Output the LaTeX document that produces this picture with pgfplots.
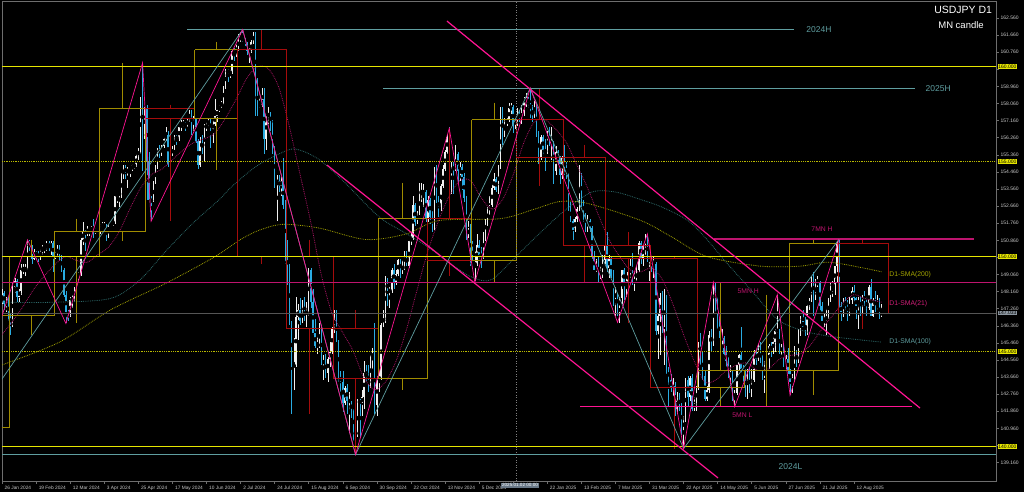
\documentclass[border=0pt]{standalone}
\usepackage{pgfplots}
\pgfplotsset{compat=1.18}
\usepackage{pgfplotstable}
\usepackage{fontspec}
\setmainfont{Liberation Sans}
\definecolor{upc}{RGB}{240,240,240}
\definecolor{dnc}{RGB}{41,171,226}
\definecolor{mnup}{RGB}{160,140,0}
\definecolor{mndn}{RGB}{165,12,12}
\definecolor{ylw}{RGB}{230,230,0}
\definecolor{ylwdot}{RGB}{185,185,0}
\definecolor{mag}{RGB}{190,20,110}
\definecolor{dpink}{RGB}{255,20,147}
\definecolor{tealc}{RGB}{95,158,160}
\definecolor{sma200}{RGB}{165,165,0}
\definecolor{sma100}{RGB}{45,105,105}
\definecolor{sma21}{RGB}{170,20,100}
\definecolor{axc}{RGB}{110,110,110}
\definecolor{lbl}{RGB}{200,200,200}
\definecolor{curc}{RGB}{85,85,85}

\pgfplotstableread{
o h l c
147.6 148.3 147.5 148.1
148.1 148.2 147.2 147.5
147.5 147.9 147.1 147.6
147.6 147.9 146.6 146.9
146.9 147.0 145.9 146.4
146.4 148.6 146.3 148.4
148.4 148.9 148.1 148.7
148.7 148.8 147.6 147.9
147.9 148.3 147.6 148.2
148.2 149.6 148.0 149.3
149.3 149.6 149.1 149.3
149.3 149.6 149.0 149.4
149.4 150.9 149.3 150.8
150.8 150.9 150.3 150.6
150.6 150.6 149.6 149.9
149.9 150.4 149.8 150.2
150.2 150.3 149.9 150.1
150.1 150.3 149.7 150.0
150.0 150.4 149.8 150.3
150.3 150.6 150.1 150.5
150.5 150.6 150.2 150.5
150.5 150.8 150.3 150.7
150.7 150.8 150.3 150.5
150.5 150.8 150.1 150.7
150.7 150.8 149.2 150.0
150.0 150.3 149.9 150.1
150.1 150.6 150.0 150.5
150.5 150.6 149.8 150.0
150.0 150.1 149.2 149.3
149.3 149.4 147.9 148.0
148.0 148.2 146.5 147.1
147.1 147.2 146.6 146.9
146.9 147.9 146.8 147.7
147.7 148.0 147.3 147.8
147.8 148.4 147.6 148.3
148.3 149.2 148.2 149.0
149.0 149.2 148.7 149.1
149.1 151.0 149.0 150.9
150.9 151.8 150.6 151.3
151.3 151.4 150.3 151.2
151.2 151.6 151.1 151.4
151.4 151.5 151.1 151.4
151.4 151.6 151.3 151.5
151.5 152.0 151.0 151.3
151.3 151.5 151.2 151.4
151.4 151.4 151.2 151.3
151.3 151.7 151.2 151.6
151.6 151.8 151.5 151.6
151.6 151.8 151.5 151.6
151.6 151.7 150.8 151.3
151.3 151.7 151.0 151.6
151.6 151.9 151.6 151.8
151.8 151.9 151.6 151.8
151.8 153.2 151.7 153.2
153.2 153.3 152.8 153.3
153.3 153.4 152.6 153.3
153.3 154.4 153.1 154.2
154.2 154.8 154.1 154.7
154.7 154.8 154.1 154.4
154.4 154.7 153.6 154.6
154.6 154.7 154.2 154.6
154.6 154.9 154.5 154.8
154.8 154.9 154.6 154.8
154.8 155.4 154.7 155.3
155.3 155.7 155.1 155.6
155.6 158.4 155.4 158.3
158.3 160.2 154.5 156.4
156.4 157.9 156.2 157.8
157.8 158.0 153.0 155.0
155.0 155.5 152.9 153.0
153.0 153.2 151.9 152.9
152.9 154.0 152.9 153.9
153.9 154.8 153.8 154.7
154.7 155.7 154.6 155.6
155.6 155.9 155.2 155.5
155.5 155.9 155.3 155.8
155.8 156.3 155.7 156.2
156.2 156.8 156.1 156.4
156.4 156.6 154.7 154.9
154.9 155.6 153.6 155.4
155.4 155.8 155.3 155.7
155.7 156.4 155.6 156.3
156.3 156.4 155.9 156.2
156.2 156.9 156.1 156.8
156.8 157.2 156.6 157.0
157.0 157.2 156.8 157.0
157.0 157.1 156.6 156.9
156.9 157.3 156.8 157.2
157.2 157.7 157.1 157.6
157.6 157.7 156.4 156.8
156.8 157.4 156.6 157.3
157.3 157.3 156.0 156.1
156.1 156.2 154.6 154.8
154.8 156.3 154.7 156.1
156.1 156.4 155.4 155.6
155.6 157.0 155.0 156.7
156.7 157.1 156.6 157.0
157.0 157.3 156.8 157.1
157.1 157.3 155.7 156.7
156.7 157.2 156.0 157.0
157.0 158.3 156.9 157.4
157.4 157.8 157.1 157.7
157.7 158.0 157.6 157.9
157.9 158.2 157.8 158.1
158.1 159.0 158.0 158.9
158.9 159.9 158.8 159.8
159.8 159.9 159.2 159.7
159.7 159.8 159.4 159.7
159.7 160.9 159.6 160.8
160.8 161.0 160.3 160.7
160.7 161.3 160.5 160.9
160.9 161.7 160.8 161.5
161.5 161.8 161.3 161.5
161.5 162.0 161.3 161.4
161.4 161.5 161.1 161.2
161.2 161.3 160.6 160.8
160.8 161.0 160.2 160.8
160.8 161.4 160.7 161.3
161.3 161.8 161.2 161.7
161.7 161.8 157.4 158.8
158.8 159.4 157.4 157.9
157.9 158.4 157.8 158.0
158.0 158.9 157.9 158.3
158.3 158.9 155.4 156.2
156.2 157.5 155.6 157.4
157.4 157.9 157.0 157.5
157.5 157.6 156.6 157.0
157.0 157.2 155.4 155.6
155.6 155.8 153.6 153.9
153.9 154.3 151.9 154.0
154.0 154.3 153.4 153.7
153.7 154.2 153.2 154.0
154.0 155.2 152.5 152.7
152.7 153.0 149.6 150.0
150.0 150.9 148.5 149.4
149.4 149.6 146.4 146.5
146.5 146.6 141.7 144.2
144.2 145.7 143.0 144.3
144.3 147.9 144.2 146.8
146.8 147.5 145.6 147.2
147.2 147.8 146.4 146.6
146.6 147.7 146.5 147.2
147.2 147.9 146.6 146.8
146.8 147.6 146.3 147.3
147.3 149.4 146.9 149.3
149.3 149.4 147.3 147.6
147.6 148.3 145.9 146.0
146.0 146.7 145.2 145.3
145.3 145.9 144.9 145.3
145.3 146.5 145.2 146.3
146.3 146.4 144.3 144.4
144.4 144.8 143.5 144.5
144.5 144.9 143.6 143.9
143.9 144.8 143.4 144.6
144.6 145.5 144.2 145.0
145.0 146.3 144.9 146.2
146.2 147.2 146.0 146.9
146.9 147.2 145.5 145.5
145.5 145.6 143.4 143.7
143.7 144.0 142.9 143.4
143.4 144.0 141.8 142.3
142.3 143.2 142.2 143.1
143.1 143.3 141.7 142.4
142.4 142.9 140.7 142.4
142.4 142.4 141.5 141.8
141.8 142.0 140.3 140.8
140.8 141.0 139.6 140.6
140.6 142.5 140.5 142.4
142.4 142.5 140.5 142.3
142.3 143.0 141.6 142.6
142.6 144.5 142.0 143.9
143.9 144.3 143.4 143.6
143.6 144.3 142.9 143.2
143.2 144.8 143.1 144.8
144.8 145.2 144.1 144.8
144.8 146.5 141.7 142.2
142.2 143.7 141.6 143.6
143.6 144.0 142.9 143.6
143.6 146.5 143.5 146.4
146.4 147.2 146.3 146.9
146.9 149.0 146.5 148.7
148.7 148.9 147.4 148.2
148.2 148.4 147.3 148.2
148.2 149.4 148.1 149.3
149.3 149.6 148.3 148.6
148.6 149.3 148.5 149.1
149.1 149.9 149.0 149.8
149.8 149.9 148.9 149.2
149.2 149.8 149.1 149.6
149.6 150.3 149.3 150.1
150.1 150.3 149.5 149.5
149.5 150.9 149.4 150.8
150.8 151.3 150.6 151.0
151.0 153.2 150.9 152.7
152.7 152.8 151.6 151.8
151.8 152.4 151.7 152.3
152.3 153.9 152.2 153.3
153.3 153.9 152.9 153.4
153.4 153.8 152.6 153.4
153.4 153.5 151.8 152.0
152.0 153.2 151.8 153.0
153.0 153.1 151.7 152.1
152.1 152.4 151.3 151.6
151.6 154.7 151.4 154.6
154.6 154.8 152.8 152.9
152.9 153.2 152.1 152.6
152.6 153.8 152.4 153.7
153.7 154.8 153.6 154.6
154.6 155.6 154.5 155.5
155.5 156.4 155.4 156.3
156.3 156.8 153.9 154.3
154.3 155.0 153.3 154.7
154.7 155.0 153.3 154.6
154.6 155.9 154.5 155.4
155.4 155.5 153.9 154.5
154.5 155.0 154.0 154.7
154.7 154.9 153.5 154.2
154.2 154.4 152.9 153.1
153.1 153.2 150.9 151.1
151.1 151.9 151.0 151.5
151.5 151.7 149.5 149.7
149.7 150.8 149.6 149.6
149.6 150.3 148.7 149.6
149.6 151.2 149.5 150.6
150.6 150.9 149.9 150.1
150.1 150.5 149.4 150.0
150.0 151.3 149.9 151.2
151.2 152.0 150.8 151.9
151.9 152.6 151.6 152.4
152.4 153.2 152.2 152.7
152.7 153.9 152.6 153.6
153.6 154.4 153.5 154.1
154.1 154.2 153.4 153.5
153.5 154.8 153.3 154.7
154.7 157.9 154.6 157.4
157.4 157.9 155.9 156.4
156.4 157.3 156.3 157.1
157.1 157.3 156.9 157.2
157.2 158.1 157.1 157.8
157.8 158.1 157.5 157.9
157.9 158.0 156.5 156.9
156.9 157.4 156.7 157.2
157.2 157.8 156.9 157.5
157.5 157.7 157.1 157.3
157.3 158.0 157.0 157.6
157.6 158.4 157.4 158.1
158.1 158.6 157.9 158.3
158.3 158.4 157.8 158.1
158.1 158.9 157.3 157.7
157.7 158.0 157.1 157.5
157.5 158.2 157.3 158.0
158.0 158.1 156.3 156.5
156.5 156.6 154.9 155.2
155.2 156.4 155.1 156.3
156.3 156.4 155.3 155.6
155.6 156.2 154.5 155.5
155.5 156.6 155.4 156.5
156.5 156.8 155.8 156.0
156.0 156.8 155.1 156.0
156.0 156.1 153.8 154.5
154.5 155.8 154.3 155.5
155.5 155.6 154.8 155.2
155.2 155.3 153.8 154.3
154.3 155.3 154.1 155.2
155.2 155.9 154.3 154.5
154.5 155.0 154.1 154.3
154.3 154.4 152.4 152.6
152.6 152.9 151.8 151.9
151.9 152.0 150.9 151.4
151.4 152.1 151.3 152.0
152.0 152.6 151.8 152.5
152.5 154.8 152.4 154.4
154.4 154.4 152.6 152.8
152.8 153.0 151.8 152.3
152.3 152.3 151.3 151.5
151.5 152.2 151.3 151.9
151.9 152.0 151.3 151.5
151.5 151.6 149.9 150.0
150.0 150.3 149.3 149.3
149.3 149.9 149.2 149.7
149.7 150.0 148.6 149.0
149.0 149.5 148.8 149.2
149.2 150.1 148.9 149.8
149.8 150.9 149.6 150.6
150.6 151.3 149.2 149.4
149.4 150.1 148.9 149.9
149.9 150.0 148.9 149.0
149.0 149.3 147.4 147.9
147.9 148.4 146.9 148.0
148.0 148.1 146.9 147.3
147.3 147.9 146.5 147.8
147.8 149.3 147.5 149.3
149.3 149.4 147.7 148.6
148.6 148.9 147.9 148.6
148.6 149.4 148.5 149.2
149.2 149.9 148.9 149.3
149.3 150.2 148.5 148.7
148.7 149.2 148.2 148.7
148.7 149.5 148.6 149.3
149.3 150.8 149.2 150.7
150.7 150.8 149.6 149.9
149.9 150.7 149.5 150.6
150.6 151.2 150.1 151.0
151.0 151.1 149.7 149.8
149.8 150.0 148.7 149.9
149.9 150.0 149.2 149.6
149.6 150.0 148.9 149.6
149.6 149.7 145.9 146.1
146.1 147.0 144.6 146.9
146.9 148.1 144.8 147.8
147.8 148.2 146.0 146.3
146.3 148.3 144.3 147.8
147.8 148.0 143.8 144.1
144.1 144.2 142.1 143.5
143.5 143.8 142.9 143.1
143.1 143.6 142.6 143.2
143.2 143.4 141.6 142.0
142.0 142.9 141.7 142.5
142.5 142.8 141.9 142.2
142.2 142.3 140.6 140.9
140.9 141.6 139.9 141.4
141.4 143.6 141.3 143.5
143.5 143.7 142.1 142.6
142.6 143.7 142.4 143.6
143.6 143.8 141.9 142.0
142.0 142.6 141.9 142.3
142.3 143.2 141.9 143.1
143.1 145.5 143.0 145.4
145.4 146.0 144.3 144.9
144.9 145.0 143.5 143.7
143.7 144.0 142.4 142.5
142.5 143.2 142.4 143.0
143.0 146.1 142.8 145.9
145.9 146.2 145.0 145.4
145.4 148.6 145.3 148.4
148.4 148.6 147.1 147.5
147.5 147.9 146.2 146.7
146.7 146.9 145.5 145.7
145.7 146.2 145.2 145.7
145.7 145.8 144.6 144.9
144.9 145.3 144.2 144.5
144.5 144.7 143.6 143.7
143.7 144.3 143.2 143.9
143.9 144.0 142.4 142.6
142.6 143.0 142.1 142.8
142.8 144.3 142.7 144.3
144.3 144.9 144.0 144.8
144.8 146.3 143.9 144.1
144.1 144.3 143.4 144.0
144.0 144.1 142.6 142.7
142.7 144.1 142.5 144.0
144.0 144.2 142.8 142.8
142.8 144.1 142.6 143.5
143.5 145.1 143.4 144.9
144.9 145.1 144.3 144.6
144.6 145.4 144.5 145.0
145.0 145.5 144.4 144.6
144.6 144.8 143.5 143.6
143.6 144.5 142.8 144.1
144.1 144.9 143.8 144.8
144.8 145.4 144.1 145.3
145.3 145.5 144.7 145.1
145.1 145.8 144.9 145.5
145.5 146.2 145.0 146.1
146.1 148.0 146.0 146.1
146.1 146.2 144.9 145.0
145.0 145.4 144.8 145.2
145.2 145.4 144.2 144.4
144.4 144.8 144.1 144.6
144.6 145.2 143.8 144.0
144.0 144.1 142.7 143.4
143.4 143.8 142.8 143.6
143.6 145.3 143.4 144.9
144.9 145.1 144.2 144.5
144.5 146.2 144.4 146.1
146.1 146.9 145.8 146.6
146.6 147.2 146.2 146.3
146.3 146.8 145.8 146.2
146.2 147.5 145.9 147.4
147.4 147.8 147.2 147.7
147.7 149.0 147.6 148.8
148.8 149.2 146.9 147.9
147.9 148.8 147.7 148.6
148.6 149.0 148.4 148.6
148.6 148.7 147.0 147.4
147.4 147.6 146.6 146.6
146.6 147.0 146.3 146.6
146.6 147.3 145.9 146.9
146.9 147.8 146.7 147.7
147.7 148.6 147.6 148.5
148.5 148.7 147.9 148.5
148.5 149.5 148.0 149.5
149.5 150.8 148.6 150.7
150.7 150.9 147.3 147.4
147.4 147.6 146.6 147.1
147.1 147.8 146.8 147.6
147.6 147.9 147.2 147.4
147.4 147.7 146.6 147.1
147.1 147.9 146.9 147.7
147.7 148.4 147.5 148.2
148.2 148.5 147.6 147.8
147.8 147.9 146.7 147.4
147.4 147.9 146.2 147.8
147.8 147.9 146.9 147.2
147.2 148.0 147.0 147.9
147.9 148.2 147.4 147.7
147.7 147.9 146.9 147.3
147.3 148.5 147.2 148.4
148.4 148.8 146.9 146.9
146.9 147.8 146.8 147.7
147.7 148.2 147.1 147.4
147.4 148.0 147.2 147.4
147.4 147.8 146.7 147.0
147.0 147.5 146.8 147.03
}\candles

% monthly candle box: xl xr xm top bottom high low colour
\newcommand{\mnbox}[8]{%
  \addplot[#8, line width=0.8pt, forget plot] coordinates {(#1,#4) (#2,#4) (#2,#5) (#1,#5) (#1,#4)};
  \addplot[#8, line width=0.8pt, forget plot] coordinates {(#3,#6) (#3,#4)};
  \addplot[#8, line width=0.8pt, forget plot] coordinates {(#3,#5) (#3,#7)};
}

\begin{document}
\begin{tikzpicture}
\useasboundingbox (0,0) rectangle (1024pt,492pt);
\fill[black] (0,0) rectangle (1024pt,492pt);
\begin{axis}[
  at={(2pt,11pt)}, anchor=south west,
  scale only axis, width=994pt, height=480pt,
  xmin=0, xmax=466.7, ymin=138.19, ymax=163.455,
  axis line style={draw=axc, line width=0.6pt},
  clip mode=individual,
  xtick={0,16,32,48,64,80,96,112,128,144,160,176,192,208,224,240,256,272,288,304,320,336,352,368,384,400},
  xticklabels={26 Jan 2024,19 Feb 2024,12 Mar 2024,3 Apr 2024,25 Apr 2024,17 May 2024,10 Jun 2024,2 Jul 2024,24 Jul 2024,15 Aug 2024,6 Sep 2024,30 Sep 2024,22 Oct 2024,13 Nov 2024,5 Dec 2024,,22 Jan 2025,13 Feb 2025,7 Mar 2025,31 Mar 2025,22 Apr 2025,14 May 2025,5 Jun 2025,27 Jun 2025,21 Jul 2025,12 Aug 2025},
  xtick pos=bottom, ytick pos=right,
  tick align=outside, major tick length=2.5pt,
  tick style={draw=axc, line width=0.5pt},
  xticklabel style={anchor=north west, text=lbl, font=\fontsize{4.8}{5}\selectfont, xshift=-0.8pt, yshift=1pt},
  ytick={139.16,140.06,140.96,141.86,142.76,143.66,144.56,145.46,146.36,147.26,148.16,149.06,149.96,150.86,151.76,152.66,153.56,154.46,155.36,156.26,157.16,158.06,158.96,159.86,160.76,161.66,162.56},
  yticklabels={139.160,,140.960,141.860,142.760,143.660,144.560,145.460,146.360,147.260,148.160,149.060,,150.860,151.760,152.660,153.560,154.460,155.360,156.260,157.160,158.060,158.960,,160.760,161.660,162.560},
  yticklabel pos=right,
  yticklabel style={anchor=west, text=lbl, font=\fontsize{5}{5}\selectfont, xshift=-1.5pt},
]
% ---------- daily candles ----------
\addplot[only marks, mark=none, forget plot,
  error bars/.cd, y dir=both, y explicit, error mark=none,
  error bar style={draw=upc, line width=0.5pt}]
  table[x expr=\coordindex,
        y expr={(\thisrow{c}>=\thisrow{o}) ? 0.5*(\thisrow{h}+\thisrow{l}) : nan},
        y error expr={0.5*(\thisrow{h}-\thisrow{l})}] {\candles};
\addplot[only marks, mark=none, forget plot,
  error bars/.cd, y dir=both, y explicit, error mark=none,
  error bar style={draw=upc, line width=1.4pt}]
  table[x expr=\coordindex,
        y expr={(\thisrow{c}>=\thisrow{o}) ? 0.5*(\thisrow{o}+\thisrow{c}) : nan},
        y error expr={0.5*abs(\thisrow{c}-\thisrow{o})}] {\candles};
\addplot[only marks, mark=none, forget plot,
  error bars/.cd, y dir=both, y explicit, error mark=none,
  error bar style={draw=dnc, line width=0.5pt}]
  table[x expr=\coordindex,
        y expr={(\thisrow{c}<\thisrow{o}) ? 0.5*(\thisrow{h}+\thisrow{l}) : nan},
        y error expr={0.5*(\thisrow{h}-\thisrow{l})}] {\candles};
\addplot[only marks, mark=none, forget plot,
  error bars/.cd, y dir=both, y explicit, error mark=none,
  error bar style={draw=dnc, line width=1.4pt}]
  table[x expr=\coordindex,
        y expr={(\thisrow{c}<\thisrow{o}) ? 0.5*(\thisrow{o}+\thisrow{c}) : nan},
        y error expr={0.5*abs(\thisrow{c}-\thisrow{o})}] {\candles};

% ---------- moving averages ----------
\addplot[sma200, densely dotted, line width=0.8pt, smooth] coordinates {(0,144.3) (27,145.5) (51,147.2) (77,148.6) (100,150.0) (112,150.9) (121,151.4) (132,151.7) (149,151.5) (171,150.9) (190,151.2) (205,151.9) (234,152.0) (250,152.5) (262,152.9) (275,152.8) (300,151.9) (315,151.0) (331,150.0) (356,149.5) (375,149.5) (389,149.7) (413,149.2)};
\addplot[sma100, densely dotted, line width=0.8pt, smooth] coordinates {(0,147.6) (25,147.6) (51,147.8) (65,148.8) (77,150.3) (90,151.8) (102,153.0) (108,153.7) (120,154.8) (134,155.6) (140,155.6) (149,155.1) (160,154.0) (177,152.1) (190,151.2) (200,150.5) (211,149.6) (221,148.9) (230,148.8) (243,150.2) (255,151.5) (265,152.5) (277,153.4) (288,153.4) (300,153.0) (310,152.6) (322,151.9) (331,150.9) (340,149.7) (352,148.2) (364,146.7) (376,146.1) (389,145.8) (413,145.5)};
\addplot[sma21, densely dotted, line width=0.8pt, smooth] coordinates {(0,145.9) (5,146.6) (10,147.4) (15,148.3) (20,149.0) (25,149.6) (30,150.0) (35,149.8) (40,149.7) (45,150.1) (50,150.5) (55,151.3) (60,152.5) (65,153.6) (70,154.3) (75,154.6) (80,155.1) (85,155.6) (90,156.0) (95,156.2) (100,156.5) (105,157.3) (110,158.3) (115,159.4) (120,160.0) (125,159.9) (130,158.9) (135,156.8) (140,154.3) (145,151.8) (150,149.0) (155,147.0) (160,146.0) (165,145.0) (170,143.6) (175,143.0) (180,143.4) (185,144.5) (190,146.2) (195,148.3) (200,150.3) (205,151.9) (210,153.2) (215,154.0) (220,154.0) (225,153.1) (230,152.5) (235,153.0) (240,154.3) (245,156.0) (250,157.1) (255,157.2) (260,156.7) (265,156.0) (270,154.8) (275,153.6) (280,152.2) (285,150.9) (290,150.0) (295,149.3) (300,149.2) (305,149.4) (310,148.8) (315,147.5) (320,145.9) (325,144.5) (330,143.4) (335,143.5) (340,144.0) (345,144.3) (350,144.4) (355,144.0) (360,144.1) (365,144.6) (370,144.8) (375,144.9) (380,145.4) (385,146.2) (390,146.9) (395,147.6) (400,148.0) (405,147.8) (413,147.6)};

% ---------- monthly candles ----------
\mnbox{-18.5}{3.5}{-7.5}{146.9}{141.0}{148.8}{140.8}{mnup}
\mnbox{3.5}{24.5}{14}{150.0}{146.9}{150.9}{145.9}{mnup}
\mnbox{24.5}{45.5}{35}{151.35}{150.0}{152.0}{146.5}{mnup}
\mnbox{45.5}{67.5}{56.5}{157.8}{151.35}{160.2}{150.8}{mnup}
\mnbox{67.5}{90.5}{79}{157.8}{157.3}{158.0}{151.9}{mndn}
\mnbox{90.5}{110.5}{100.5}{160.9}{157.3}{161.3}{154.55}{mnup}
\mnbox{110.5}{133.5}{122}{160.9}{150.0}{161.95}{149.6}{mndn}
\mnbox{133.5}{155.5}{144.5}{150.0}{146.2}{150.9}{141.7}{mndn}
\mnbox{155.5}{176.5}{166}{146.2}{143.6}{147.2}{139.58}{mndn}
\mnbox{176.5}{199.5}{188}{152.0}{143.6}{153.9}{143.0}{mnup}
\mnbox{199.5}{220.5}{210}{152.0}{149.8}{156.75}{149.0}{mndn}
\mnbox{220.5}{241.5}{231}{157.2}{149.8}{158.1}{148.65}{mnup}
\mnbox{241.5}{263.5}{252.5}{157.2}{155.2}{158.87}{153.7}{mndn}
\mnbox{263.5}{283.5}{273.5}{155.2}{150.6}{155.9}{148.6}{mndn}
\mnbox{283.5}{304.5}{294}{150.6}{149.9}{151.3}{146.5}{mndn}
\mnbox{304.5}{326.5}{315.5}{149.9}{143.1}{150.05}{139.9}{mndn}
\mnbox{326.5}{348.5}{337.5}{144.0}{143.1}{148.65}{142.1}{mnup}
\mnbox{348.5}{369.5}{359}{144.03}{144.0}{148.0}{142.1}{mnup}
\mnbox{369.5}{392.5}{381}{150.7}{144.0}{150.92}{142.7}{mnup}
\mnbox{392.5}{416}{404}{150.7}{147.03}{150.92}{146.2}{mndn}

% ---------- horizontal levels ----------
\addplot[ylw, line width=1.3pt] coordinates {(0,160) (466.7,160)};
\addplot[ylw, line width=1.3pt] coordinates {(0,150) (466.7,150)};
\addplot[ylw, line width=1.3pt] coordinates {(0,140) (466.7,140)};
\addplot[ylwdot, densely dotted, line width=0.8pt] coordinates {(0,155) (466.7,155)};
\addplot[ylwdot, densely dotted, line width=0.8pt] coordinates {(0,145) (466.7,145)};
\addplot[mag, line width=1.4pt] coordinates {(0,148.65) (466.7,148.65)};
\addplot[mag, line width=1.4pt] coordinates {(334.3,150.92) (456.3,150.92)};
\addplot[dpink, line width=1.2pt] coordinates {(271.4,142.12) (427.2,142.12)};
\addplot[curc, line width=0.8pt] coordinates {(0,147.033) (466.7,147.033)};
\addplot[tealc, line width=0.9pt] coordinates {(86.9,161.95) (372,161.95)};
\addplot[tealc, line width=0.9pt] coordinates {(178.9,158.87) (428.6,158.87)};
\addplot[tealc, line width=0.9pt] coordinates {(0,139.58) (466.7,139.58)};
\addplot[gray, dotted, line width=0.6pt] coordinates {(241.3,138.19) (241.3,163.455)};

% ---------- channel ----------
\addplot[dpink, line width=1.2pt] coordinates {(208.9,162.40) (431.0,142.03)};
\addplot[dpink, line width=1.2pt] coordinates {(152.6,154.82) (336.2,138.35)};

% ---------- zigzags ----------
\addplot[tealc, line width=0.7pt] coordinates {(-20,140.3) (113,161.95) (166,139.58) (248,158.87) (320,139.89) (393,150.92)};
\addplot[dpink, line width=0.7pt] coordinates {(-3,145.9) (12,150.88) (30,146.48) (66,160.2) (70,151.86) (113,161.95) (166,139.58) (210,156.75) (222,148.65) (248,158.87) (289,146.54) (303,151.2) (320,139.89) (334,148.65) (344,142.1) (364,148.0) (370,142.7) (393,150.92)};

% ---------- labels ----------
\node[anchor=west, text=tealc, font=\fontsize{8.5}{9}\selectfont] at (axis cs:376,161.93) {2024H};
\node[anchor=west, text=tealc, font=\fontsize{8.5}{9}\selectfont] at (axis cs:432,158.87) {2025H};
\node[anchor=west, text=tealc, font=\fontsize{8.5}{9}\selectfont] at (axis cs:363,138.93) {2024L};
\node[anchor=west, text=mag, font=\fontsize{6.8}{7}\selectfont] at (axis cs:378.4,151.45) {7MN H};
\node[anchor=west, text=mag, font=\fontsize{6.8}{7}\selectfont] at (axis cs:343.7,148.19) {5MN H};
\node[anchor=west, text=mag, font=\fontsize{6.8}{7}\selectfont] at (axis cs:341.3,141.66) {5MN L};
\node[anchor=west, text=sma200, font=\fontsize{6.8}{7}\selectfont] at (axis cs:415,149.03) {D1-SMA(200)};
\node[anchor=west, text={rgb,255:red,210;green,30;blue,120}, font=\fontsize{6.8}{7}\selectfont] at (axis cs:415,147.51) {D1-SMA(21)};
\node[anchor=west, text=tealc, font=\fontsize{6.8}{7}\selectfont] at (axis cs:415,145.51) {D1-SMA(100)};
\node[anchor=east, text=white, font=\fontsize{10.5}{11}\selectfont] at (axis cs:466.5,162.98) {USDJPY D1};
\node[anchor=east, text=white, font=\fontsize{9.5}{10}\selectfont] at (axis cs:462.6,162.2) {MN candle};
% price-scale markers
\node[anchor=west, fill=ylw, text=black, inner sep=0.7pt, font=\fontsize{5}{5}\selectfont, xshift=1.5pt] at (axis cs:466.7,160) {160.000};
\node[anchor=west, fill=ylw, text=black, inner sep=0.7pt, font=\fontsize{5}{5}\selectfont, xshift=1.5pt] at (axis cs:466.7,155) {155.000};
\node[anchor=west, fill=ylw, text=black, inner sep=0.7pt, font=\fontsize{5}{5}\selectfont, xshift=1.5pt] at (axis cs:466.7,150) {150.000};
\node[anchor=west, fill=ylw, text=black, inner sep=0.7pt, font=\fontsize{5}{5}\selectfont, xshift=1.5pt] at (axis cs:466.7,145) {145.000};
\node[anchor=west, fill=ylw, text=black, inner sep=0.7pt, font=\fontsize{5}{5}\selectfont, xshift=1.5pt] at (axis cs:466.7,140) {140.000};
\node[anchor=west, fill={rgb,255:red,140;green,150;blue,160}, text=black, inner sep=0.7pt, font=\fontsize{5}{5}\selectfont, xshift=1.5pt] at (axis cs:466.7,147.033) {147.033};
\node[anchor=north, fill={rgb,255:red,105;green,120;blue,135}, text=white, inner sep=0.8pt, font=\fontsize{4.6}{5}\selectfont, yshift=-1.5pt] at (axis cs:243.2,138.19) {2025.01.02 00:00};
\end{axis}
\end{tikzpicture}
\end{document}
